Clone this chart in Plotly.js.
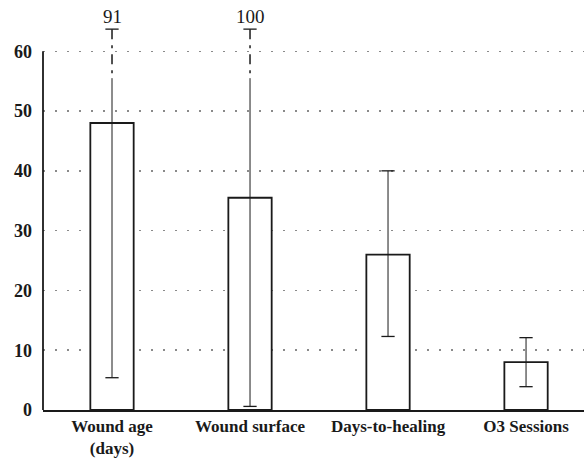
<!DOCTYPE html>
<html>
<head>
<meta charset="utf-8">
<script src="https://cdn.plot.ly/plotly-3.0.1.min.js"></script>
<style>html,body{margin:0;padding:0;background:#fff;}#chart{width:584px;height:459px;}</style>
</head>
<body>
<div id="chart"></div>
<script>
// ---- data ----
const categories = ["Wound age<br>(days)", "Wound surface", "Days-to-healing", "O3 Sessions"];
const means = [48.0, 35.5, 26.0, 8.0];
const lowerBounds = [5.4, 0.6, 12.3, 3.9];
const upperBounds = [91, 100, 40.0, 12.1];
const yTicks = [0, 10, 20, 30, 40, 50, 60];

// ---- drawing parameters ----
const axisMax = yTicks[yTicks.length - 1];
const breakStart = 55.5;   // where the solid whisker turns into a dash-dot (axis break)
const breakCap = 63.7;     // where truncated whiskers end
const capHalf = 0.048;
const xs = categories.map((_, i) => i);

const solidX = [], solidY = [], capX = [], capY = [], brkX = [], brkY = [], brkCapX = [], brkCapY = [];
const annotations = [];
xs.forEach((x, i) => {
  const lo = lowerBounds[i], hi = upperBounds[i];
  const clipped = hi > axisMax;
  const top = clipped ? breakStart : hi;
  solidX.push(x, x, null); solidY.push(lo, top, null);
  capX.push(x - capHalf, x + capHalf, null); capY.push(lo, lo, null);
  if (!clipped) {
    capX.push(x - capHalf, x + capHalf, null); capY.push(hi, hi, null);
  } else {
    brkX.push(x, x, null); brkY.push(breakCap, breakStart, null);
    brkCapX.push(x - capHalf, x + capHalf, null); brkCapY.push(breakCap, breakCap, null);
    annotations.push({x: x, y: breakCap, xref: 'x', yref: 'y', text: String(hi), showarrow: false,
      yanchor: 'bottom', yshift: 0, font: {family: 'Liberation Serif, serif', size: 19, color: '#1a1a1a'}});
  }
});

const traces = [
  {type: 'bar', x: xs, y: means, width: 0.314,
   marker: {color: '#ffffff', line: {color: '#1a1a1a', width: 1.8}}, hoverinfo: 'skip'},
  {type: 'scatter', mode: 'lines', x: solidX, y: solidY, line: {color: '#1a1a1a', width: 1}, hoverinfo: 'skip'},
  {type: 'scatter', mode: 'lines', x: capX, y: capY, line: {color: '#1a1a1a', width: 1.3}, hoverinfo: 'skip'},
  {type: 'scatter', mode: 'lines', x: brkX, y: brkY, line: {color: '#1a1a1a', width: 1.5, dash: '10px,6px,3px,6px'}, hoverinfo: 'skip'},
  {type: 'scatter', mode: 'lines', x: brkCapX, y: brkCapY, line: {color: '#1a1a1a', width: 1.3}, hoverinfo: 'skip'}
];

const layout = {
  width: 584, height: 459,
  margin: {l: 43, r: 0, t: 10, b: 49},
  paper_bgcolor: '#fff', plot_bgcolor: '#fff',
  showlegend: false,
  font: {family: 'Liberation Serif, serif', color: '#1a1a1a'},
  xaxis: {
    range: [-0.5, 3.42], tickvals: xs, ticktext: categories,
    showgrid: false, zeroline: false, showline: true, linecolor: '#1a1a1a', linewidth: 1.8,
    ticks: '', ticklabelstandoff: 0,
    tickfont: {family: 'Liberation Serif, serif', size: 17, color: '#1a1a1a', weight: 'bold'}
  },
  yaxis: {
    range: [0, 66.9], tickvals: yTicks, ticktext: yTicks.map(String),
    showgrid: true, gridcolor: '#8a8a8a', gridwidth: 1.5, griddash: '2px,10px',
    zeroline: false, showline: false, ticks: '', ticklabelstandoff: 10,
    tickfont: {family: 'Liberation Serif, serif', size: 18, color: '#1a1a1a', weight: 'bold'}
  },
  shapes: [{type: 'line', xref: 'paper', yref: 'y', x0: 0, x1: 0, y0: 0, y1: axisMax,
            line: {color: '#1a1a1a', width: 1.8}}],
  annotations: annotations
};

Plotly.newPlot('chart', traces, layout, {displayModeBar: false, staticPlot: true});
</script>
</body>
</html>
